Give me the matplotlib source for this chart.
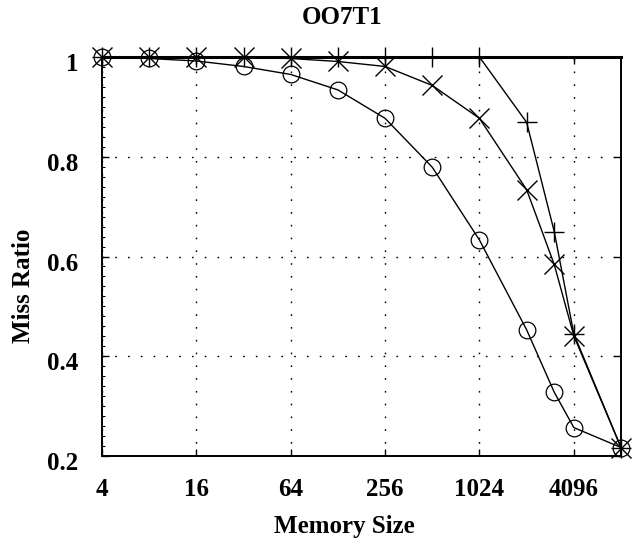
import matplotlib
matplotlib.use("Agg")
import matplotlib.pyplot as plt
import matplotlib.transforms as mtransforms
from matplotlib.ticker import FixedLocator, MultipleLocator, NullFormatter

plt.rcParams['font.family'] = ['Liberation Serif', 'DejaVu Serif']
plt.rcParams['font.weight'] = 'bold'

# Cache sizes (pages) and miss ratios for the three replacement policies
memory_size = [4, 8, 16, 32, 64, 128, 256, 512, 1024, 2048, 3072, 4096, 8192]
miss_circle = [1.000, 0.997, 0.992, 0.981, 0.965, 0.934, 0.877, 0.779,
               0.633, 0.453, 0.328, 0.257, 0.217]
miss_cross = [1.000, 1.000, 1.000, 0.999, 0.997, 0.991, 0.981, 0.943,
              0.877, 0.734, 0.584, 0.441, 0.217]
miss_plus = [1.000, 1.000, 1.000, 1.000, 1.000, 1.000, 1.000, 1.000,
             1.000, 0.869, 0.650, 0.445, 0.217]

xticks = [4, 16, 64, 256, 1024, 4096]
xtick_labels = ['4', '16', '64', '256', '1024', '4096']
yticks = [0.2, 0.4, 0.6, 0.8, 1.0]
ytick_labels = ['0.2', '0.4', '0.6', '0.8', '1']

W, H = 642, 546
fig = plt.figure(figsize=(W / 100, H / 100), dpi=100)
ax = fig.add_axes([102 / W, 1 - 456 / H, (621 - 102) / W, (456 - 57) / H])

line_kw = dict(color='black', linewidth=1.0, clip_on=False, zorder=3)
ax.plot(memory_size, miss_circle, marker='o', markersize=12,
        markerfacecolor='none', markeredgewidth=0.9, **line_kw)
ax.plot(memory_size, miss_cross, marker='x', markersize=14,
        markeredgewidth=1.0, **line_kw)
ax.plot(memory_size, miss_plus, marker='+', markersize=15,
        markeredgewidth=1.0, **line_kw)

ax.set_xscale('log', base=2)
ax.set_xlim(4, 8192)
ax.set_ylim(0.2, 1.0)

ax.xaxis.set_major_locator(FixedLocator(xticks))
ax.set_xticklabels(xtick_labels)
ax.xaxis.set_minor_formatter(NullFormatter())
ax.xaxis.set_minor_locator(FixedLocator([]))
ax.set_yticks(yticks)
ax.set_yticklabels(ytick_labels)
ax.yaxis.set_minor_locator(MultipleLocator(0.02))

ax.tick_params(axis='both', which='major', direction='in', length=5, width=1.0,
               top=True, right=True, labelsize=18, color='black')
ax.tick_params(axis='x', which='major', pad=16)
ax.tick_params(axis='y', which='major', pad=17)
ax.tick_params(axis='y', which='minor', direction='in', length=2, width=0.8,
               left=True, right=False)

# shift y tick labels slightly downward
offset = mtransforms.ScaledTranslation(0, -5 / 100, fig.dpi_scale_trans)
for lab in ax.get_yticklabels():
    lab.set_transform(lab.get_transform() + offset)
    lab.set_fontweight('bold')
for lab in ax.get_xticklabels():
    lab.set_fontweight('bold')

ax.grid(True, which='major', color='black', linewidth=1.0,
        linestyle=(0, (1.2, 8)))

for side in ['left', 'right', 'top', 'bottom']:
    ax.spines[side].set_linewidth(1.4)
ax.spines['top'].set_linewidth(2.2)

fig.text(342 / W, 1 - 18 / H, 'OO7T1', ha='center', va='center',
         fontsize=18, fontweight='bold')
fig.text(344 / W, 1 - 526 / H, 'Memory Size', ha='center', va='center',
         fontsize=18, fontweight='bold')
fig.text(24 / W, 1 - 286 / H, 'Miss Ratio', ha='center', va='center',
         rotation=90, fontsize=18, fontweight='bold')

fig.savefig('out.png', dpi=100)
